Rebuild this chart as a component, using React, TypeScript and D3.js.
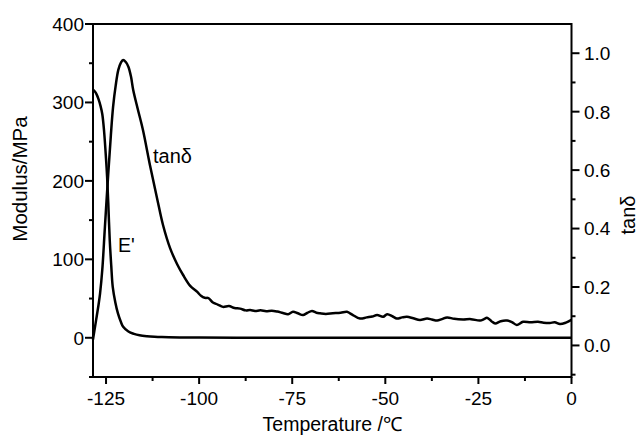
import React from "react";
import * as d3 from "d3";

// ---- data ----
const tempE = [-128.5, -128, -127.5, -127, -126.5, -126, -125.5, -125, -124.7, -124.4, -124, -123.6, -123.2, -122.5, -121.8, -121, -120.4, -119, -117.5, -116, -114, -112, -110, -105, -100, -90, -75, -50, -25, 0];
const modE = [316, 314, 310, 304, 296, 285, 262, 228, 204, 172, 124, 92, 65, 45, 31, 20, 14, 8, 5, 3.2, 2, 1.3, 0.9, 0.5, 0.3, 0.1, 0, 0, 0, 0];

const tempTan = [-128.5, -128.4, -128, -127.5, -127, -126.6, -126, -125.3, -124.4, -123.7, -123.1, -122.4, -121.7, -121, -120.4, -119.7, -119, -118.3, -117.7, -116.5, -115.1, -113.2, -111.3, -109.7, -107.8, -105.9, -104.3, -102.4, -100.5, -99.5, -98.5, -97.5, -96.3, -95, -93.6, -92, -90.5, -89, -87.5, -86.3, -85, -83.5, -82, -80.5, -79, -77.5, -76.1, -74.8, -73.5, -72.1, -71, -69.7, -68.5, -67.5, -66, -64.1, -62, -60.3, -59.5, -58.7, -56.8, -55, -53.5, -52.2, -50.6, -49.5, -48, -46.9, -45.5, -44.2, -42.5, -40.7, -38.8, -37.5, -36.1, -34.8, -33.4, -31.5, -29.1, -27, -24.6, -23.5, -22.7, -21.5, -20.5, -19, -17.3, -16, -14.7, -13, -11, -9, -7.5, -5.8, -4.5, -3.1, -1.5, -0.4, 0];
const tanD = [0.02, 0.029, 0.06, 0.10, 0.14, 0.178, 0.26, 0.406, 0.589, 0.72, 0.817, 0.89, 0.943, 0.968, 0.977, 0.97, 0.954, 0.92, 0.874, 0.81, 0.738, 0.617, 0.504, 0.412, 0.333, 0.278, 0.241, 0.204, 0.183, 0.17, 0.163, 0.162, 0.147, 0.14, 0.132, 0.135, 0.128, 0.126, 0.12, 0.121, 0.118, 0.12, 0.117, 0.119, 0.116, 0.111, 0.107, 0.115, 0.11, 0.104, 0.111, 0.118, 0.112, 0.11, 0.108, 0.11, 0.112, 0.115, 0.11, 0.104, 0.092, 0.096, 0.099, 0.104, 0.098, 0.107, 0.099, 0.092, 0.096, 0.098, 0.093, 0.087, 0.092, 0.089, 0.085, 0.09, 0.096, 0.091, 0.089, 0.09, 0.085, 0.09, 0.095, 0.083, 0.075, 0.083, 0.085, 0.08, 0.07, 0.081, 0.079, 0.081, 0.078, 0.077, 0.079, 0.073, 0.078, 0.085, 0.087];

const xMajor = [-125, -100, -75, -50, -25, 0];
const xMinor = [-112.5, -87.5, -62.5, -37.5, -12.5];
const yLMajor = [0, 100, 200, 300, 400];
const yLMinor = [-50, 50, 150, 250, 350];
const yRMajor = [0, 0.2, 0.4, 0.6, 0.8, 1.0];
const yRMinor = [-0.1, 0.1, 0.3, 0.5, 0.7, 0.9];

const W = 639, H = 435;
const L = 93, R = 571.5, T = 24, B = 377;
const FONT = "'Liberation Sans', Arial, sans-serif";

export default function App() {
  const x = d3.scaleLinear().domain([-128.5, 0]).range([L, R]);
  const yL = d3.scaleLinear().domain([-50, 400]).range([B, T]);
  const yR = d3.scaleLinear().domain([-0.108, 1.1]).range([B, T]);

  const lineE = d3.line<number>().x((d, i) => x(tempE[i])).y((d) => yL(d)).curve(d3.curveCatmullRom.alpha(0.5));
  const lineT = d3.line<number>().x((d, i) => x(tempTan[i])).y((d) => yR(d)).curve(d3.curveCatmullRom.alpha(0.5));

  const fmtR = d3.format(".1f");

  return (
    <svg width={W} height={H} style={{ position: "absolute", left: 0, top: 0, background: "#fff" }} fontFamily={FONT}>
      <rect x={0} y={0} width={W} height={H} fill="#fff" />
      {/* curves */}
      <path d={lineE(modE) || ""} fill="none" stroke="#000" strokeWidth={2.5} strokeLinejoin="round" />
      <path d={lineT(tanD) || ""} fill="none" stroke="#000" strokeWidth={2.5} strokeLinejoin="round" />

      {/* frame */}
      <rect x={L} y={T} width={R - L} height={B - T} fill="none" stroke="#000" strokeWidth={2} />

      {/* bottom axis */}
      {xMajor.map((v) => (
        <g key={"xm" + v}>
          <line x1={x(v)} x2={x(v)} y1={B} y2={B + 7} stroke="#000" strokeWidth={2} />
          <text x={x(v)} y={405} fontSize={19} textAnchor="middle">{v}</text>
        </g>
      ))}
      {xMinor.map((v) => (
        <line key={"xn" + v} x1={x(v)} x2={x(v)} y1={B} y2={B + 4} stroke="#000" strokeWidth={2} />
      ))}

      {/* left axis */}
      {yLMajor.map((v) => (
        <g key={"lm" + v}>
          <line x1={L - 8} x2={L} y1={yL(v)} y2={yL(v)} stroke="#000" strokeWidth={2} />
          <text x={84} y={yL(v)} dy="0.36em" fontSize={19} textAnchor="end">{v}</text>
        </g>
      ))}
      {yLMinor.map((v) => (
        <line key={"ln" + v} x1={L - 4} x2={L} y1={yL(v)} y2={yL(v)} stroke="#000" strokeWidth={2} />
      ))}

      {/* right axis */}
      {yRMajor.map((v) => (
        <g key={"rm" + v}>
          <line x1={R} x2={R + 8} y1={yR(v)} y2={yR(v)} stroke="#000" strokeWidth={2} />
          <text x={584} y={yR(v)} dy="0.36em" fontSize={19} textAnchor="start">{fmtR(v)}</text>
        </g>
      ))}
      {yRMinor.map((v) => (
        <line key={"rn" + v} x1={R} x2={R + 4} y1={yR(v)} y2={yR(v)} stroke="#000" strokeWidth={2} />
      ))}

      {/* axis titles */}
      <text x={(L + R) / 2} y={431} fontSize={19.5} textAnchor="middle">Temperature /℃</text>
      <text transform="translate(27,179) rotate(-90)" fontSize={20.5} textAnchor="middle">Modulus/MPa</text>
      <text transform="translate(635,215) rotate(-90)" fontSize={20} textAnchor="middle">tanδ</text>

      {/* curve labels */}
      <text x={153} y={163} fontSize={20}>tanδ</text>
      <text x={118} y={252} fontSize={19.5}>E'</text>
    </svg>
  );
}
